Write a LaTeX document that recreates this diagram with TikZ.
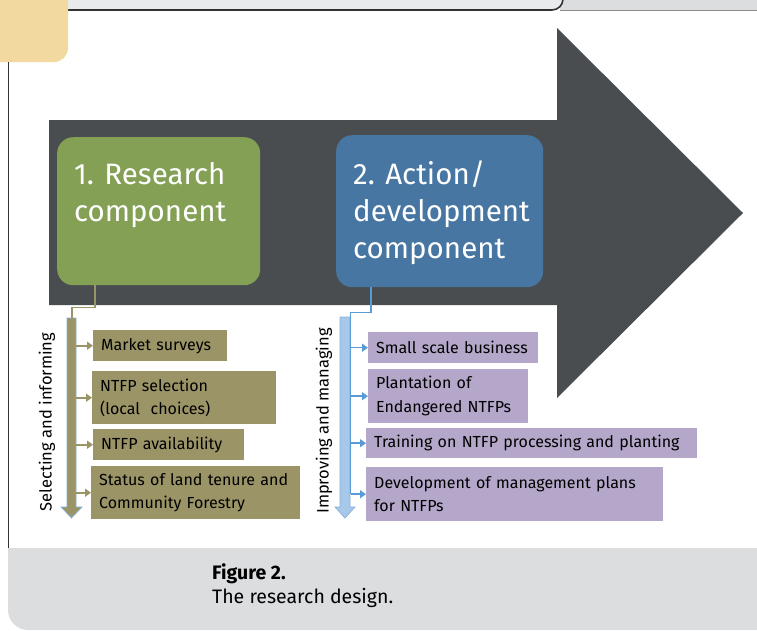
\documentclass[tikz,border=0pt]{standalone}
\usepackage{fontspec}
\setmainfont{Fira Sans}
\usetikzlibrary{arrows.meta,positioning}

\definecolor{arrowgray}{HTML}{4A4D50}
\definecolor{resgreen}{HTML}{83A055}
\definecolor{actblue}{HTML}{4676A1}
\definecolor{tanbox}{HTML}{9B9467}
\definecolor{lilac}{HTML}{B4A7C9}
\definecolor{railblue}{HTML}{A7C8E8}
\definecolor{railedge}{HTML}{86B0DA}
\definecolor{linkblue}{HTML}{5B9BD5}
\definecolor{tabtan}{HTML}{F1D9A0}
\definecolor{capgray}{HTML}{DCDDDF}
\definecolor{topgray}{HTML}{E9EAEB}

\tikzset{
  comp/.style={fill=#1, rounded corners=16pt, text=white, anchor=north west,
    inner xsep=17pt, inner ysep=25pt, font=\fontsize{29.5}{37}\selectfont},
  infobox/.style={fill=#1, anchor=north west, align=left, inner xsep=8pt,
    inner ysep=0pt, font=\fontsize{16}{23.5}\selectfont},
  sidelabel/.style={rotate=90, font=\fontsize{16.5}{18}\selectfont},
  tanlink/.style={draw=tanbox, line width=1.6pt},
  bluelink/.style={draw=linkblue, line width=1.5pt},
  tanarrow/.style={tanlink, line width=2pt, -{Triangle[width=8pt,length=6pt]}},
  bluearrow/.style={bluelink, -{Triangle[width=8pt,length=6pt]}},
  capline/.style={anchor=base west, inner sep=0pt, font=\fontsize{19.5}{22}\selectfont},
}

\begin{document}
\begin{tikzpicture}[x=1pt,y=-1pt]

    \def\W{757}	 %width of page
    \def\H{630}	 %height of page
    \def\base{548} %top of caption band

    \useasboundingbox (0,0) rectangle (\W,\H);

    %PAGE FRAME
    \fill[capgray] (560,0) rectangle (\W,10);
    \draw[black!45, line width=0.8pt] (560,10) -- (\W,10);
    \fill[topgray, rounded corners=11pt] (40,-20) rectangle (563,10);
    \draw[black!80, line width=1.6pt, rounded corners=11pt] (40,10) -- (563,10) -- (563,-20);
    \fill[tabtan, rounded corners=14pt] (-20,-20) rectangle (68,62);
    \draw[black!80, line width=0.8pt] (8,62) -- (8,\base) -- (\W,\base);
    \begin{scope}
        \clip (0,\base+0.5) rectangle (\W,\H);
        \fill[capgray, rounded corners=20pt] (8,500) rectangle (\W+40,\H);
    \end{scope}

    %BIG ARROW
    \fill[arrowgray] (49,120) -- (557,120) -- (557,28) -- (743,213)
        -- (557,398) -- (557,305) -- (49,305) -- cycle;

    %COMPONENTS
    \node[comp=resgreen] (res) at (57,137)
        {\parbox[c][98pt][t]{169pt}{\raggedright 1. Research\\component}};
    \node[comp=actblue] (act) at (336,135)
        {\parbox[c][102pt][t]{173pt}{\raggedright 2. Action/\\development\\component}};

    %RESEARCH SIDE
    \node[infobox=tanbox, text width=118pt, minimum height=31pt] (m1) at (93,330) {Market surveys};
    \node[infobox=tanbox, text width=168pt, minimum height=53pt] (m2) at (92,371) {NTFP selection\\(local\ \ choices)};
    \node[infobox=tanbox, text width=135pt, minimum height=31pt] (m3) at (93,429) {NTFP availability};
    \node[infobox=tanbox, text width=193pt, minimum height=53pt] (m4) at (91,466) {Status of land tenure and\\Community Forestry};

    \fill[tanbox, draw=railedge, line width=0.7pt] (67,318) -- (76,318) -- (76,507) -- (82,507)
        -- (71.5,518) -- (61,507) -- (67,507) -- cycle;
    \coordinate (lrail) at (76,318);
    \coordinate (ltop) at (72,318);
    \draw[tanlink] ([xshift=38pt]res.south west) -- ++(0,22) -| (ltop);
    \foreach \b in {m1,m2,m3,m4}{
        \draw[tanarrow] (\b.west -| lrail) -- (\b.west);
    } %end of tan arrows
    \node[sidelabel] (sel) at (47,422) {Selecting and informing};

    %ACTION SIDE
    \node[infobox=lilac, text width=154pt, minimum height=31pt] (d1) at (368,332) {Small scale business};
    \node[infobox=lilac, text width=144pt, minimum height=54pt] (d2) at (368,369) {Plantation of\\Endangered NTFPs};
    \node[infobox=lilac, text width=315pt, minimum height=30pt] (d3) at (366,428) {Training on NTFP processing and planting};
    \node[infobox=lilac, text width=281pt, minimum height=54pt] (d4) at (366,467) {Development of management plans\\for NTFPs};

    \fill[railblue, draw=railedge, line width=0.7pt] (340,317) -- (350,317) -- (350,507) -- (355,507)
        -- (345,518) -- (335,507) -- (340,507) -- cycle;
    \coordinate (rrail) at (350.5,317);
    \draw[bluelink] ([xshift=35pt]act.south west) -- ++(0,25) -| (rrail) -- (rrail |- d4.west);
    \foreach \b in {d1,d2,d3,d4}{
        \draw[bluearrow] (\b.west -| rrail) -- (\b.west);
    } %end of blue arrows
    \node[sidelabel] (imp) at (324,421) {Improving and managing};

    %CAPTION
    \node[capline, font=\fontsize{19.5}{22}\selectfont\bfseries] (fig) at (212,579) {Figure 2.};
    \node[capline] (cap) at (212,603) {The research design.};
\end{tikzpicture}
\end{document}
